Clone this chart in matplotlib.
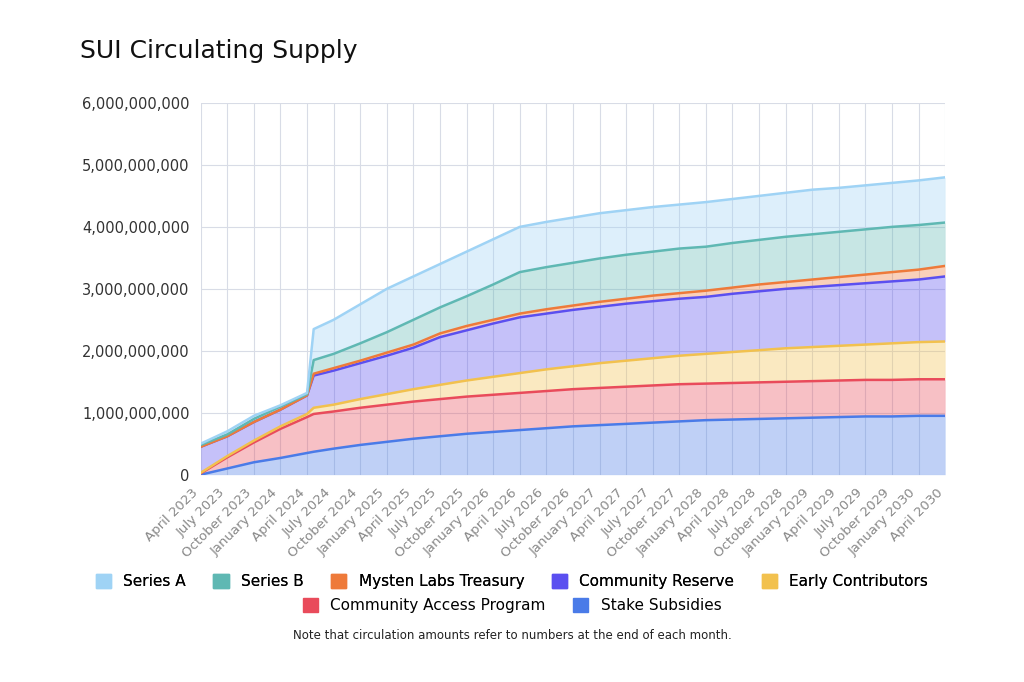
import numpy as np
import matplotlib.pyplot as plt
from matplotlib.patches import Patch

quarters = ["April 2023", "July 2023", "October 2023", "January 2024", "April 2024",
            "July 2024", "October 2024", "January 2025", "April 2025", "July 2025",
            "October 2025", "January 2026", "April 2026", "July 2026", "October 2026",
            "January 2027", "April 2027", "July 2027", "October 2027", "January 2028",
            "April 2028", "July 2028", "October 2028", "January 2029", "April 2029",
            "July 2029", "October 2029", "January 2030", "April 2030"]
# quarter index positions (4.25 = just after the May 2024 unlock)
xpos = [0, 1, 2, 3, 4, 4.25] + list(range(5, 29))

# cumulative top of each band, in billions
stake = [0, 0.10, 0.20, 0.27, 0.35, 0.37, 0.42, 0.48, 0.53, 0.58, 0.62, 0.66, 0.69, 0.72, 0.75,
         0.78, 0.80, 0.82, 0.84, 0.86, 0.88, 0.89, 0.90, 0.91, 0.92, 0.93, 0.94, 0.94, 0.95, 0.95]
access = [0.02, 0.28, 0.52, 0.74, 0.93, 0.98, 1.02, 1.08, 1.13, 1.18, 1.22, 1.26, 1.29, 1.32, 1.35,
          1.38, 1.40, 1.42, 1.44, 1.46, 1.47, 1.48, 1.49, 1.50, 1.51, 1.52, 1.53, 1.53, 1.54, 1.54]
early = [0.03, 0.30, 0.55, 0.78, 0.98, 1.08, 1.13, 1.22, 1.30, 1.38, 1.45, 1.52, 1.58, 1.64, 1.70,
         1.75, 1.80, 1.84, 1.88, 1.92, 1.95, 1.98, 2.01, 2.04, 2.06, 2.08, 2.10, 2.12, 2.14, 2.15]
reserve = [0.45, 0.62, 0.85, 1.05, 1.28, 1.60, 1.68, 1.80, 1.92, 2.05, 2.22, 2.33, 2.44, 2.54, 2.60,
           2.66, 2.71, 2.76, 2.80, 2.84, 2.87, 2.92, 2.96, 3.00, 3.03, 3.06, 3.09, 3.12, 3.15, 3.20]
treasury = [0.45, 0.62, 0.85, 1.05, 1.28, 1.63, 1.72, 1.84, 1.97, 2.10, 2.28, 2.40, 2.50, 2.60, 2.67,
            2.73, 2.79, 2.84, 2.89, 2.93, 2.97, 3.02, 3.07, 3.11, 3.15, 3.19, 3.23, 3.27, 3.31, 3.37]
seriesB = [0.48, 0.65, 0.90, 1.10, 1.30, 1.85, 1.95, 2.12, 2.30, 2.50, 2.70, 2.88, 3.07, 3.27, 3.35,
           3.42, 3.49, 3.55, 3.60, 3.65, 3.68, 3.74, 3.79, 3.84, 3.88, 3.92, 3.96, 4.00, 4.03, 4.07]
seriesA = [0.50, 0.70, 0.95, 1.12, 1.32, 2.35, 2.50, 2.75, 3.00, 3.20, 3.40, 3.60, 3.80, 4.00, 4.08,
           4.15, 4.22, 4.27, 4.32, 4.36, 4.40, 4.45, 4.50, 4.55, 4.60, 4.63, 4.67, 4.71, 4.75, 4.80]

names = ["Series A", "Series B", "Mysten Labs Treasury", "Community Reserve",
         "Early Contributors", "Community Access Program", "Stake Subsidies"]
tops = [seriesA, seriesB, treasury, reserve, early, access, stake]
colors = ["#9fd3f5", "#5fb8b3", "#ee7a3a", "#5b4ff0", "#f2c14e", "#e94b5b", "#4a7be8"]

fig = plt.figure(figsize=(10.24, 6.82), dpi=100)
ax = fig.add_axes([0.196, 0.304, 0.727, 0.545])

x = np.array(xpos)
lower = np.zeros(len(x))
for name, top, c in reversed(list(zip(names, tops, colors))):
    t = np.array(top) * 1e9
    ax.fill_between(x, lower, t, color=c, alpha=0.35, lw=0)
    ax.plot(x, t, color=c, lw=1.8)
    lower = t

ax.set_xlim(0, 28)
ax.set_ylim(0, 6e9)
ax.set_xticks(range(29))
ax.set_xticklabels(quarters, rotation=45, ha="right", fontsize=9.5, color="#888888")
ax.set_yticks(np.arange(0, 7e9, 1e9))
ax.set_yticklabels(["0"] + [f"{v:,}" for v in range(1000000000, 7000000000, 1000000000)],
                   fontsize=10.5, color="#333333")
ax.grid(True, color="#d8dce6", lw=0.8)
ax.set_axisbelow(True)
for s in ax.spines.values():
    s.set_visible(False)
ax.tick_params(length=0, pad=8)

fig.text(0.078, 0.915, "SUI Circulating Supply", fontsize=18, color="#111111")

hs = [Patch(color=c) for c in colors]
leg1 = fig.legend(hs[:5], names[:5], loc="center", bbox_to_anchor=(0.5, 0.147), ncol=5,
                  frameon=False, fontsize=11, handlelength=1, handleheight=1, columnspacing=1.8)
fig.legend(hs[5:], names[5:], loc="center", bbox_to_anchor=(0.5, 0.112), ncol=2,
           frameon=False, fontsize=11, handlelength=1, handleheight=1, columnspacing=1.8)
fig.add_artist(leg1)
fig.text(0.5, 0.063, "Note that circulation amounts refer to numbers at the end of each month.",
         ha="center", fontsize=8.5, color="#222222")

fig.savefig("out.png", facecolor="white")
